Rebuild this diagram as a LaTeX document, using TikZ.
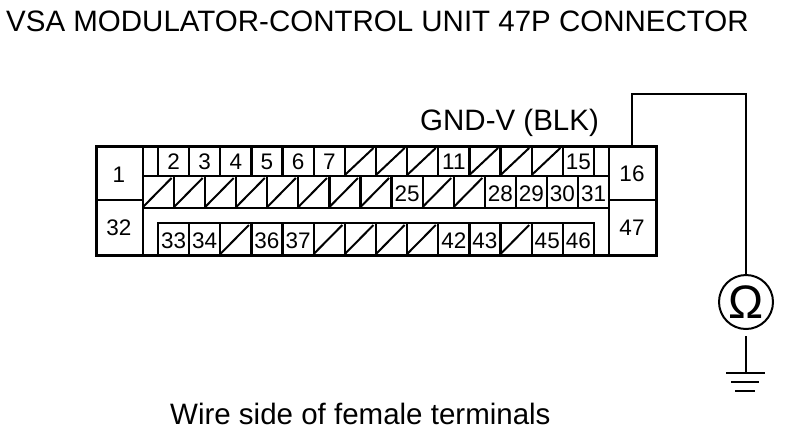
\documentclass[tikz,border=0pt]{standalone}
\usepackage{fontspec}
\setmainfont{Liberation Sans}
\tikzset{
  outer/.style={line width=3pt,line cap=rect},
  grid/.style={line width=2.2pt},
  thin divider/.style={line width=1.5pt},
  slash/.style={line width=2pt},
  wire/.style={line width=2pt},
  num/.style={font=\fontsize{22.5}{24}\selectfont,inner sep=0pt,anchor=center},
  title/.style={font=\fontsize{29.5}{31}\selectfont,inner sep=0pt,anchor=base west}
}
\begin{document}
\begin{tikzpicture}[x=1pt,y=-1pt]
\useasboundingbox (0,0) rectangle (800,432);
\fill[white] (0,0) rectangle (800,432);
% texts
\node[title] (head) at (6,31.5) {VSA MODULATOR-CONTROL UNIT 47P CONNECTOR};
\node[title] (gnd) at (420,130.5) {GND-V (BLK)};
\node[title] (side) at (170,424) {Wire side of female terminals};
% body
\draw[outer] (96,146) rectangle (656,255);
\draw[grid] (143,146) -- (143,255) (609,146) -- (609,255);
\draw[thin divider] (96,200) -- (143,200) (609,200) -- (656,200);
\draw[grid] (143,176) -- (594,176) (594,146) -- (594,176);
\draw[grid] (143,176) -- (609,176) (143,208) -- (609,208);
\draw[grid] (158,146) -- (158,176);
\draw[grid] (158,255) -- (158,223) -- (594,223) -- (594,255);
% row 1
\foreach \i/\t in {0/2,1/3,2/4,3/5,4/6,5/7,6/,7/,8/,9/11,10/,11/,12/,13/15}{
  \pgfmathsetmacro{\xa}{158+31.14*\i}
  \pgfmathsetmacro{\xb}{\xa+31.14}
  \draw[grid] (\xb,146) -- (\xb,176);
  \ifx\t\empty
    \draw[slash] (\xa,175) -- (\xb-2.5,148);
  \else
    \node[num] (a\t) at ({(\xa+\xb)/2},161.5) {\t};
  \fi
}
% row 2
\foreach \i/\t in {0/,1/,2/,3/,4/,5/,6/,7/,8/25,9/,10/,11/28,12/29,13/30,14/31}{
  \pgfmathsetmacro{\xa}{143+31.07*\i}
  \pgfmathsetmacro{\xb}{\xa+31.07}
  \draw[grid] (\xb,176) -- (\xb,208);
  \ifx\t\empty
    \draw[slash] (\xa,207) -- (\xb-2.5,178);
  \else
    \node[num] (b\t) at ({(\xa+\xb)/2},194) {\t};
  \fi
}
% row 3
\foreach \i/\t in {0/33,1/34,2/,3/36,4/37,5/,6/,7/,8/,9/42,10/43,11/,12/45,13/46}{
  \pgfmathsetmacro{\xa}{158+31.14*\i}
  \pgfmathsetmacro{\xb}{\xa+31.14}
  \draw[grid] (\xb,223) -- (\xb,255);
  \ifx\t\empty
    \draw[slash] (\xa,254) -- (\xb-2.5,225);
  \else
    \node[num] (c\t) at ({(\xa+\xb)/2},240.5) {\t};
  \fi
}
% end cells
\node[num] (t1) at (119,175) {1};
\node[num] (t32) at (119,228) {32};
\node[num] (t16) at (632,174) {16};
\node[num] (t47) at (632,228) {47};
% meter
\node[circle,draw,line width=2pt,minimum size=54pt,inner sep=0pt] (meter) at (746,302) {};
\node[inner sep=0pt,font=\fontsize{47}{48}\selectfont] (ohm) at (meter.center) {Ω};
\coordinate (pin) at (632,146);
\coordinate (g1) at (746,373);
\coordinate (gap) at (746,336);
\draw[wire] (pin) -- (632,94) -- (746,94) -- (meter.north);
\draw[wire] (gap) -- (g1);
\draw[line width=2.8pt] (726,373) -- (765,373);
\draw[line width=2.8pt] (731,382) -- (759,382);
\draw[line width=2.8pt] (735,391) -- (755,391);
\end{tikzpicture}
\end{document}
